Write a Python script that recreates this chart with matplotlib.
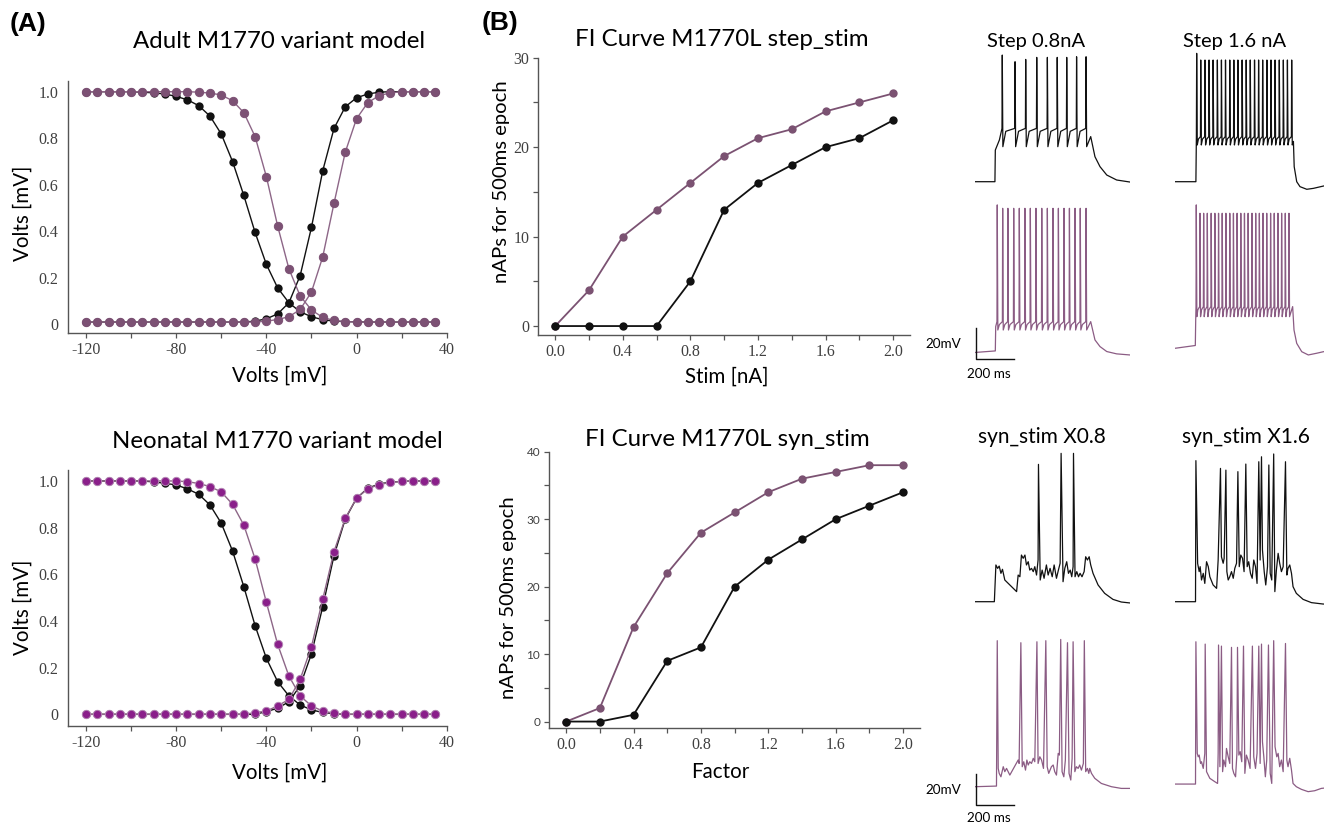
import matplotlib

matplotlib.use("Agg")
import matplotlib.pyplot as plt
import numpy as np

W, H = 1324, 826

# --- Panel A: steady-state activation / inactivation -----------------------
gate_v = np.arange(-120, 40, 5)

adult_inact_wt = [1.0, 1.0, 1.0, 1.0, 1.0, 0.998, 0.995, 0.99, 0.98, 0.965, 0.94,
                  0.895, 0.818, 0.70, 0.554, 0.395, 0.258, 0.157, 0.093, 0.054,
                  0.033, 0.02, 0.014, 0.012, 0.011, 0.01, 0.01, 0.01, 0.01, 0.01,
                  0.01, 0.01]
adult_act_wt = [0.01] * 15 + [0.014, 0.024, 0.045, 0.093, 0.21, 0.417, 0.66, 0.842,
                              0.935, 0.974, 0.99, 0.998, 1.0, 1.0, 1.0, 1.0, 1.0]
adult_inact_mut = [1.0] * 10 + [0.998, 0.994, 0.986, 0.961, 0.91, 0.807, 0.635,
                                0.423, 0.239, 0.122, 0.062, 0.03, 0.017, 0.012] + [0.01] * 8
adult_act_mut = [0.01] * 16 + [0.014, 0.021, 0.033, 0.064, 0.139, 0.29, 0.52, 0.74,
                               0.884, 0.953, 0.983, 0.995, 1.0, 1.0, 1.0, 1.0]

neo_inact_wt = [1.0] * 6 + [0.996, 0.99, 0.983, 0.966, 0.943, 0.897, 0.819, 0.70,
                            0.547, 0.38, 0.24, 0.14, 0.079, 0.04, 0.019, 0.008,
                            0.003] + [0.0] * 9
neo_act_wt = [0.0] * 16 + [0.012, 0.026, 0.054, 0.123, 0.259, 0.461, 0.68, 0.837,
                           0.926, 0.969, 0.987, 0.995, 0.998, 1.0, 1.0, 1.0]
neo_inact_mut = [1.0] * 9 + [0.997, 0.989, 0.976, 0.953, 0.90, 0.811, 0.666, 0.48,
                             0.30, 0.164, 0.079, 0.036, 0.014, 0.005] + [0.0] * 9
neo_act_mut = [0.0] * 15 + [0.007, 0.014, 0.036, 0.064, 0.15, 0.29, 0.493, 0.697,
                            0.84, 0.926, 0.967, 0.984, 0.994, 0.998, 1.0, 1.0, 1.0]

# --- Panel B: FI curves ----------------------------------------------------
stim_na = [0.0, 0.2, 0.4, 0.6, 0.8, 1.0, 1.2, 1.4, 1.6, 1.8, 2.0]
step_naps_wt = [0, 0, 0, 0, 5, 13, 16, 18, 20, 21, 23]
step_naps_mut = [0, 4, 10, 13, 16, 19, 21, 22, 24, 25, 26]

syn_factor = [0.0, 0.2, 0.4, 0.6, 0.8, 1.0, 1.2, 1.4, 1.6, 1.8, 2.0]
syn_naps_wt = [0, 0, 1, 9, 11, 20, 24, 27, 30, 32, 34]
syn_naps_mut = [0, 2, 14, 22, 28, 31, 34, 36, 37, 38, 38]

# --- Example voltage traces (ms, mV) ---------------------------------------
# step traces: head before first spike, spike times/peaks, trough, knee
# (ms after spike, mV) of the interspike recovery, threshold, tail
step08_wt = dict(
    head=[(0, -70), (103, -70), (105, -49.6), (126, -43.1)],
    spike_t=[141, 207, 262, 319, 374, 425, 474, 525, 574],
    spike_pk=[11.7, 7.4, 8.9, 10.2, 10.2, 10.2, 10.2, 10.6, 10.6],
    trough=-47.4, knee=(18, -37.5), thresh=-35.6,
    tail=[(598, -40.9), (620, -53.9), (646, -60.3), (681, -65.7), (732, -68.9),
          (800, -70.2)],
)
step16_wt = dict(
    head=[(0, -70), (108, -70), (110, -46.3)],
    spike_t=[112, 133, 155, 176, 197, 219, 240, 261, 283, 304, 325, 347, 368, 389,
             411, 432, 453, 475, 496, 517, 539, 560, 581, 603],
    spike_pk=[12.8] + [8.5] * 23,
    trough=-46.3, knee=(9, -42.5), thresh=-40.9,
    tail=[(612, -44), (616, -60.3), (629, -70), (646, -73.2), (681, -74.9),
          (715, -74.3), (767, -72.8), (800, -72)],
)
step08_mut = dict(
    head=[(0, -70.5), (105, -69.5), (107, -53.8)],
    spike_t=[115, 143, 170, 200, 229, 258, 286, 315, 345, 374, 403, 431, 460, 488,
             517, 544, 574],
    spike_pk=[24.7] + [22.5] * 16,
    trough=-56, knee=(11, -52.5), thresh=-50.6,
    tail=[(598, -50.6), (620, -62.4), (646, -66.7), (681, -69.9), (732, -71.4),
          (800, -72.1)],
)
step16_mut = dict(
    head=[(0, -67.8), (105, -66), (107, -49.5)],
    spike_t=[110, 129, 148, 167, 187, 206, 225, 244, 263, 283, 302, 321, 340, 359,
             378, 398, 417, 436, 455, 474, 494, 513, 532, 551, 570, 589],
    spike_pk=[24.7] + [19.3] * 25,
    trough=-47.4, knee=(8, -43), thresh=-40.9,
    tail=[(608, -40.9), (615, -56), (629, -64.6), (655, -70), (689, -72.1),
          (732, -71), (767, -70), (800, -69.5)],
)

syn08_wt = [(0, -70), (100, -70), (108, -46.3), (117, -48.5), (125, -47), (134, -51.7),
            (142, -49.1), (154, -56), (215, -63.5), (223, -52.8), (232, -53.9),
            (240, -39.9), (249, -42), (258, -39.9), (266, -46.3), (275, -44.2),
            (283, -49.6), (292, -48.5), (301, -50.6), (309, -47.4), (318, -52.8),
            (326, -43.1), (328, 18.6), (337, -56), (347, -49.6), (357, -54.9),
            (369, -46.3), (378, -52.8), (388, -48.5), (399, -53.9), (409, -46.3),
            (421, -54.9), (431, -49.6), (440, -45.2), (445, 25.7), (455, -57.1),
            (464, -48.5), (474, -44.2), (483, -51.7), (492, -49.6), (500, -53.9),
            (507, -47.4), (509, 25.7), (517, -53.9), (526, -50.6), (535, -53.9),
            (543, -51.7), (553, -53.9), (564, -50.6), (572, -41), (581, -43.1),
            (590, -41), (598, -46.3), (610, -51.7), (636, -59.2), (670, -64.6),
            (713, -68.5), (756, -70.2), (800, -70.8)]
syn16_wt = [(0, -70), (106, -70), (108, 21), (117, -45.3), (125, -50.6), (130, -47.4),
            (137, -56), (146, -51.7), (154, -58.2), (163, -44.2), (172, -47.4),
            (180, -53.9), (197, -59.2), (215, -61.4), (223, -43.1), (235, 16),
            (240, -41), (249, -45.2), (254, -42), (263, 14.9), (268, -50.6),
            (275, -56), (283, -53.9), (292, -50.6), (301, -54.9), (309, -48.5),
            (318, -45.2), (325, 13.9), (332, -47.4), (340, -39.9), (349, -42),
            (357, -50.6), (366, 18.8), (373, -47.4), (381, -44.2), (390, -51.7),
            (399, -54.9), (407, -43.1), (416, -47.4), (424, -58.2), (433, 20.3),
            (440, -43.1), (447, 23.5), (452, -36.6), (461, -50.6), (469, -59.2),
            (478, -47.4), (485, 18.2), (492, -51.7), (500, -56), (510, 25.3),
            (516, -63.5), (524, -49.6), (533, -38.8), (541, -45.2), (550, -50.6),
            (559, -47.4), (571, 20.3), (578, -52.8), (584, -48.5), (593, -46.3),
            (602, -51.7), (610, -60.3), (627, -64.6), (662, -68.5), (705, -70.6),
            (765, -71.5), (800, -71.6)]
syn08_mut = [(0, -70), (111, -69.6), (115, 24.2), (120, -58.2), (125, -61.4),
             (134, -63.6), (146, -57.1), (154, -60.3), (163, -58.2), (180, -62.5),
             (223, -52.8), (228, -55), (237, 22.9), (244, -57.1), (252, -53.9),
             (261, -59.3), (268, -52.8), (275, -56), (283, -53.9), (292, -55),
             (301, -51.7), (309, -53.9), (320, 23.5), (326, -55), (335, -50.7),
             (344, -52.8), (354, -58.2), (366, 24.2), (373, -57.1), (381, -61.4),
             (395, -57.1), (404, -56), (412, -60.3), (421, -62.5), (430, -48.5),
             (436, -49.6), (443, 25), (450, -60.3), (459, -63.6), (467, -52.8),
             (478, 22.9), (486, -61.4), (495, -65.7), (502, -51.7), (507, 23.5),
             (516, -60.3), (524, -57.1), (533, -58.2), (541, -56), (550, -59.3),
             (560, -55), (565, 24.2), (572, -60.3), (581, -58.2), (588, -61.4),
             (593, -58.2), (602, -61.4), (619, -64.6), (653, -67.9), (705, -70),
             (756, -71.1), (800, -71.1)]
syn16_mut = [(0, -68.3), (106, -68.3), (108, 23.5), (115, -48.5), (120, -50.7),
             (125, -49.6), (132, -55), (137, -53.9), (146, -58.2), (154, -48.5),
             (156, 22), (163, -60.3), (180, -64.6), (206, -66.8), (220, -67.9),
             (223, -48.5), (225, 21.4), (232, -57.1), (240, 20.7), (246, -60.3),
             (252, -52.8), (261, -57.1), (266, -45.3), (275, -50.7), (283, -55),
             (292, 19.9), (297, -58.2), (304, -61.4), (313, -63.6), (320, -48.5),
             (323, 19.9), (330, -49.6), (337, -47.4), (345, -53.9), (354, 20.7),
             (361, -61.4), (369, -49.6), (378, -52.8), (388, -58.2), (400, 20.7),
             (407, -50.7), (416, -58.2), (424, -48.5), (433, 20.7), (440, -55),
             (447, 22), (452, -41), (459, -50.7), (467, -63.6), (474, -52.8),
             (483, 21.4), (492, -61.4), (500, -67.9), (510, 24.2), (517, -44.2),
             (526, -50.7), (533, -48.5), (541, -57.1), (550, -52.8), (559, -60.3),
             (571, 22.4), (578, -52.8), (584, -57.1), (593, -51.7), (602, -59.3),
             (610, -67.9), (627, -70), (653, -71.7), (688, -73.2), (722, -72.6),
             (756, -71.1), (800, -70.5)]

BLACK = "#111111"
ADULT_MUT = "#7c5174"
ADULT_LINE = "#8d6687"
NEO_MUT = "#8a1f8a"
NEO_EDGE = "#b486b4"
FI_MUT = "#7b5272"
TRACE_MUT = "#8b5c84"
SPINE = "#555555"
TICK_FONT = "Liberation Serif"
SANS = "Lato"

plt.rcParams["font.family"] = [SANS, "DejaVu Sans"]


def px_axes(fig, left, top, right, bottom):
    return fig.add_axes([left / W, 1 - bottom / H, (right - left) / W, (bottom - top) / H])


def px_text(fig, x, y, s, **kw):
    fig.text(x / W, 1 - y / H, s, **kw)


def style_axes(ax, ylab_len=3.5):
    for side in ("top", "right"):
        ax.spines[side].set_visible(False)
    for side in ("left", "bottom"):
        ax.spines[side].set_color(SPINE)
        ax.spines[side].set_linewidth(1.0)
    ax.tick_params(axis="x", direction="out", length=3.5, width=0.9, color=SPINE,
                   pad=3, labelcolor="#404040")
    ax.tick_params(axis="y", direction="out", length=ylab_len, width=0.9, color=SPINE,
                   pad=3 if ylab_len else 7, labelcolor="#404040")


def set_tick_font(ax, size, family=TICK_FONT):
    for lab in ax.get_xticklabels() + ax.get_yticklabels():
        lab.set_fontfamily(family)
        lab.set_fontsize(size)


def gating_panel(ax, curves_wt, curves_mut, mut_color, mut_edge, line_color):
    for vals in curves_wt:
        ax.plot(gate_v, vals, "-", color=BLACK, lw=1.0, zorder=2)
        ax.plot(gate_v, vals, "o", color=BLACK, ms=6.0, mew=0, zorder=3)
    for vals in curves_mut:
        ax.plot(gate_v, vals, "-", color=line_color, lw=1.0, zorder=4)
        ax.plot(gate_v, vals, "o", color=mut_color, ms=6.0, mec=mut_edge, mew=0.7,
                zorder=5)
    ax.set_xlim(-128, 40)
    ax.set_xticks(np.arange(-120, 41, 20))
    ax.set_xticklabels(["-120", "", "-80", "", "-40", "", "0", "", "40"])
    ax.set_yticks([0, 0.2, 0.4, 0.6, 0.8, 1.0])
    ax.set_yticklabels(["0", "0.2", "0.4", "0.6", "0.8", "1.0"])
    style_axes(ax, ylab_len=0)
    set_tick_font(ax, 11.5)


def fi_panel(ax, x, wt, mut, ymax):
    ax.plot(x, mut, "-o", color=FI_MUT, lw=1.3, ms=6.0, mew=0, zorder=3)
    ax.plot(x, wt, "-o", color=BLACK, lw=1.3, ms=6.0, mew=0, zorder=4)
    ax.set_xlim(-0.1, 2.1)
    ax.set_ylim(-1, ymax)
    ax.set_xticks(np.arange(0, 2.01, 0.2))
    ax.set_xticklabels(["0.0", "", "0.4", "", "0.8", "", "1.2", "", "1.6", "", "2.0"])
    ax.set_yticks(np.arange(0, ymax + 1, 5))
    ax.set_yticklabels([f"{v:d}" if v % 10 == 0 else "" for v in range(0, ymax + 1, 5)])
    style_axes(ax)


def step_vertices(tr):
    t = [p[0] for p in tr["head"]]
    v = [p[1] for p in tr["head"]]
    knee_dt, knee_v = tr["knee"]
    spikes = tr["spike_t"]
    for i, (ts, pk) in enumerate(zip(spikes, tr["spike_pk"])):
        t += [ts - 1.5, ts, ts + 3]
        v += [tr["thresh"], pk, tr["trough"]]
        if i + 1 < len(spikes) and ts + knee_dt < spikes[i + 1] - 2:
            t.append(ts + knee_dt)
            v.append(knee_v)
    t += [p[0] for p in tr["tail"]]
    v += [p[1] for p in tr["tail"]]
    return t, v


def trace_axes(fig, left_px, rest_px):
    # 800 ms x (-85..30) mV, 5.17 ms and 0.645 mV per pixel
    ms_px, mv_px = 200 / 38.7, 1.55
    top = rest_px - 100 * mv_px
    bottom = rest_px + 15 * mv_px
    ax = px_axes(fig, left_px, top, left_px + 800 / ms_px, bottom)
    ax.set_xlim(0, 800)
    ax.set_ylim(-85, 30)
    ax.axis("off")
    return ax


def scale_bar(ax, y0, label_y, ms_y):
    ax.plot([3, 3, 203], [y0 + 20, y0, y0], color=BLACK, lw=1.0, clip_on=False)
    ax.text(-70, label_y, "20mV", ha="right", va="center", fontsize=9.7,
            family=SANS, clip_on=False)
    ax.text(-40, ms_y, "200 ms", ha="left", va="center", fontsize=9.7,
            family=SANS, clip_on=False)


fig = plt.figure(figsize=(W / 100, H / 100), dpi=100)

# panel A
ax = px_axes(fig, 68, 81, 446.7, 333)
gating_panel(ax, [adult_inact_wt, adult_act_wt], [adult_inact_mut, adult_act_mut],
             ADULT_MUT, ADULT_MUT, ADULT_LINE)
ax.set_ylim(-0.037, 1.046)
ax.text(0.56, -0.171, "Volts [mV]", transform=ax.transAxes, ha="center", va="center",
        fontsize=14.8)
ax.text(-0.119, 0.476, "Volts [mV]", transform=ax.transAxes, ha="center",
        va="center", rotation=90, fontsize=14.8)

ax = px_axes(fig, 68, 470, 446.7, 726)
gating_panel(ax, [neo_inact_wt, neo_act_wt], [neo_inact_mut, neo_act_mut],
             NEO_MUT, NEO_EDGE, ADULT_LINE)
ax.set_ylim(-0.05, 1.047)
ax.text(0.56, -0.184, "Volts [mV]", transform=ax.transAxes, ha="center", va="center",
        fontsize=14.8)
ax.text(-0.119, 0.465, "Volts [mV]", transform=ax.transAxes, ha="center",
        va="center", rotation=90, fontsize=14.8)

px_text(fig, 279, 42, "Adult M1770 variant model", ha="center", va="center",
        fontsize=17.3)
px_text(fig, 277, 442, "Neonatal M1770 variant model", ha="center", va="center",
        fontsize=17.3)

# panel B, FI curves
ax = px_axes(fig, 538.3, 57.7, 910, 335)
fi_panel(ax, stim_na, step_naps_wt, step_naps_mut, 30)
set_tick_font(ax, 11.5)
ax.text(0.508, -0.151, "Stim [nA]", transform=ax.transAxes, ha="center",
        va="center", fontsize=14.8)
ax.text(-0.098, 0.552, "nAPs for 500ms epoch", transform=ax.transAxes, ha="center",
        va="center", rotation=90, fontsize=14.6)

ax = px_axes(fig, 549.3, 451.7, 920, 728.3)
fi_panel(ax, syn_factor, syn_naps_wt, syn_naps_mut, 40)
set_tick_font(ax, 11.5)
for lab in ax.get_yticklabels():
    lab.set_fontfamily(SANS)
    lab.set_fontsize(8.5)
ax.text(0.46, -0.158, "Factor", transform=ax.transAxes, ha="center", va="center",
        fontsize=14.8)
ax.text(-0.111, 0.473, "nAPs for 500ms epoch", transform=ax.transAxes, ha="center",
        va="center", rotation=90, fontsize=14.6)

px_text(fig, 722, 40, "FI Curve M1770L step_stim", ha="center", va="center",
        fontsize=17.3)
px_text(fig, 727, 440, "FI Curve M1770L syn_stim", ha="center", va="center",
        fontsize=17.3)

# panel B, example traces
COL1, COL2 = 975, 1175
ax = trace_axes(fig, COL1, 181.7)
ax.plot(*step_vertices(step08_wt), color=BLACK, lw=0.9)
ax = trace_axes(fig, COL2, 181.7)
ax.plot(*step_vertices(step16_wt), color=BLACK, lw=0.9)
ax = trace_axes(fig, COL1, 351.7)
ax.plot(*step_vertices(step08_mut), color=TRACE_MUT, lw=0.9)
scale_bar(ax, -75, -65, -84.5)
ax = trace_axes(fig, COL2, 351.7)
ax.plot(*step_vertices(step16_mut), color=TRACE_MUT, lw=0.9)

ax = trace_axes(fig, COL1, 601.7)
ax.plot(*zip(*syn08_wt), color=BLACK, lw=0.9)
ax = trace_axes(fig, COL2, 601.7)
ax.plot(*zip(*syn16_wt), color=BLACK, lw=0.9)
ax = trace_axes(fig, COL1, 786.7)
ax.plot(*zip(*syn08_mut), color=TRACE_MUT, lw=0.9)
scale_bar(ax, -82, -72, -90.5)
ax = trace_axes(fig, COL2, 786.7)
ax.plot(*zip(*syn16_mut), color=TRACE_MUT, lw=0.9)

px_text(fig, 1036, 42, "Step 0.8nA", ha="center", va="center", fontsize=14.5)
px_text(fig, 1235, 42, "Step 1.6 nA", ha="center", va="center", fontsize=14.5)
px_text(fig, 1042, 437, "syn_stim X0.8", ha="center", va="center", fontsize=15)
px_text(fig, 1246, 437, "syn_stim X1.6", ha="center", va="center", fontsize=15)

# panel letters
px_text(fig, 10, 24, "(A)", ha="left", va="center", fontsize=19, weight="bold",
        family="Liberation Sans")
px_text(fig, 482, 23, "(B)", ha="left", va="center", fontsize=19, weight="bold",
        family="Liberation Sans")

fig.savefig("out.png", dpi=100)
